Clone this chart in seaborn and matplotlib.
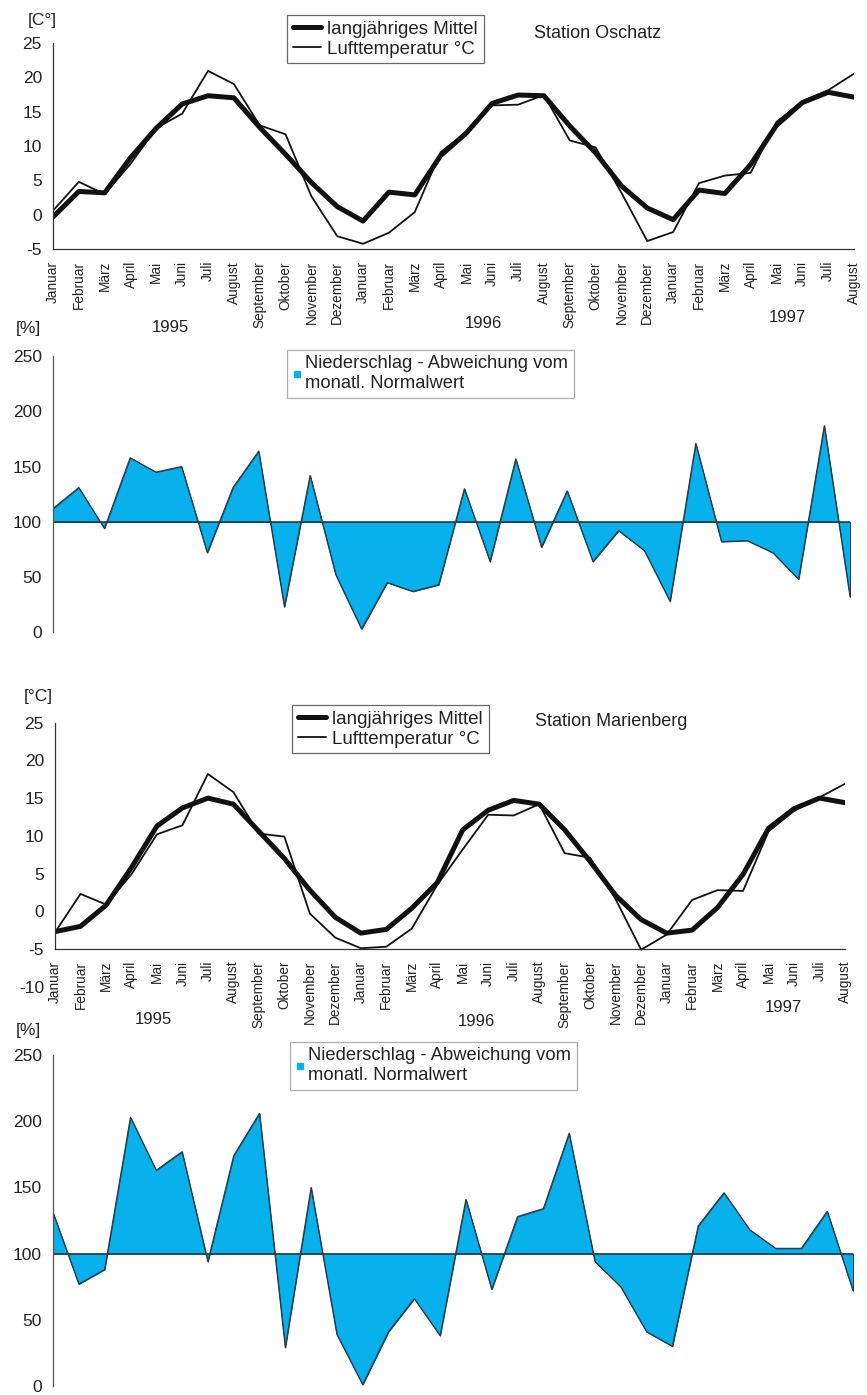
import numpy as np
import pandas as pd
import matplotlib
matplotlib.use("Agg")
import matplotlib.pyplot as plt
from matplotlib.lines import Line2D
import seaborn as sns

# ---- data -------------------------------------------------------------
MONTHS = ["Januar", "Februar", "März", "April", "Mai", "Juni", "Juli",
          "August", "September", "Oktober", "November", "Dezember"]
month_labels = MONTHS + MONTHS + MONTHS[:8]          # Jan 1995 .. Aug 1997
year_labels = ["1995", "1996", "1997"]

# Station Oschatz: long-term monthly mean and measured air temperature [°C]
osch_mittel = [-0.3, 3.4, 3.2, 8.3, 12.6, 16.1, 17.3, 17.0, 12.7, 8.8, 4.7, 1.2,
               -0.9, 3.3, 2.9, 8.6, 11.9, 16.2, 17.4, 17.3, 12.9, 9.0, 4.2, 1.0,
               -0.7, 3.6, 3.1, 7.3, 13.0, 16.3, 17.8, 17.1]
osch_temp = [0.6, 4.8, 3.0, 7.4, 12.6, 14.7, 20.9, 19.0, 13.0, 11.7, 2.7, -3.1,
             -4.2, -2.6, 0.4, 9.1, 12.0, 15.9, 16.0, 17.4, 10.8, 9.8, 3.2, -3.8,
             -2.5, 4.6, 5.7, 6.1, 13.5, 16.5, 18.1, 20.5]
# Station Oschatz: precipitation in % of the monthly normal
osch_nieder = [112, 131, 94, 158, 145, 150, 72, 131, 164, 23, 142, 52,
               3, 45, 37, 43, 130, 64, 157, 77, 128, 64, 92, 74,
               28, 171, 82, 83, 72, 48, 187, 32]

# Station Marienberg
mar_mittel = [-2.7, -2.0, 0.8, 5.8, 11.3, 13.7, 15.0, 14.2, 10.6, 7.0, 2.8, -0.8,
              -2.9, -2.4, 0.4, 3.8, 10.8, 13.4, 14.7, 14.2, 10.8, 6.6, 2.1, -1.1,
              -2.9, -2.5, 0.5, 4.9, 11.0, 13.6, 15.0, 14.4]
mar_temp = [-2.8, 2.3, 0.9, 4.9, 10.2, 11.4, 18.2, 15.8, 10.3, 9.9, -0.3, -3.5,
            -4.9, -4.7, -2.3, 3.5, 8.2, 12.8, 12.7, 14.2, 7.7, 7.1, 1.6, -5.1,
            -3.1, 1.5, 2.8, 2.7, 10.6, 13.3, 15.1, 16.9]
mar_nieder = [131, 77, 88, 203, 163, 177, 94, 174, 206, 29, 150, 39,
              1, 41, 66, 38, 141, 73, 128, 134, 191, 94, 75, 41,
              30, 121, 146, 118, 104, 104, 132, 72]

NORMAL = 100

# ---- style ------------------------------------------------------------
sns.set_theme(style="white")
plt.rcParams["font.family"] = ["Liberation Sans", "DejaVu Sans"]
TXT = "#222222"
plt.rcParams["text.color"] = TXT
plt.rcParams["xtick.color"] = TXT
plt.rcParams["ytick.color"] = TXT
plt.rcParams["axes.edgecolor"] = "#333333"
CYAN = "#08B0EC"
EDGE = "#1d3c4e"

W, H = 867, 1395
fig = plt.figure(figsize=(W / 100, H / 100), dpi=100)


def fx(x):
    return x / W


def fy(y):
    return 1 - y / H


def rect(x0, y_top, x1, y_bot):
    return [fx(x0), fy(y_bot), fx(x1) - fx(x0), fy(y_top) - fy(y_bot)]


idx = np.arange(len(month_labels))


def temp_panel(r, mittel, temp, ymin, yticks, unit, unit_xy, station,
               station_xy, leg_xy, year_xy):
    ax = fig.add_axes(r)
    df = pd.DataFrame({"m": idx, "mittel": mittel, "temp": temp})
    sns.lineplot(data=df, x="m", y="mittel", ax=ax, color="#111111",
                 lw=3.6, label="langjähriges Mittel")
    sns.lineplot(data=df, x="m", y="temp", ax=ax, color="#111111",
                 lw=1.3, label="Lufttemperatur °C")
    ax.set_xlim(0, len(month_labels) - 1)
    ax.set_ylim(ymin, 25)
    ax.set_xlabel("")
    ax.set_ylabel("")
    for s in ("top", "right"):
        ax.spines[s].set_visible(False)
    ax.spines["bottom"].set_position(("data", -5))
    ax.spines["left"].set_bounds(-5, 25)
    ax.spines["bottom"].set_linewidth(0.9)
    ax.spines["left"].set_linewidth(0.9)
    ax.set_xticks(idx)
    ax.set_xticklabels(month_labels, rotation=90, fontsize=9.8)
    ax.set_yticks(yticks)
    ax.set_yticklabels([str(t) for t in yticks], fontsize=12.5)
    ax.tick_params(axis="x", direction="inout", length=7, width=0.8, pad=5)
    ax.tick_params(axis="y", direction="out", length=5, width=0.8, pad=3)
    leg = ax.legend(loc="upper left", bbox_to_anchor=(fx(leg_xy[0]), fy(leg_xy[1])),
                    bbox_transform=fig.transFigure, borderaxespad=0,
                    fontsize=13.5, frameon=True, fancybox=False,
                    handlelength=1.5, handletextpad=0.35, labelspacing=0.15,
                    borderpad=0.3)
    leg.get_frame().set_edgecolor("#444444")
    leg.get_frame().set_linewidth(0.9)
    fig.text(fx(unit_xy[0]), fy(unit_xy[1]), unit, fontsize=12.5,
             ha="center", va="center")
    fig.text(fx(station_xy[0]), fy(station_xy[1]), station, fontsize=13,
             ha="center", va="center")
    for lab, (x, y) in zip(year_labels, year_xy):
        fig.text(fx(x), fy(y), lab, fontsize=12, ha="center", va="center")
    return ax


def rain_panel(r, values, unit_xy, leg_xy):
    ax = fig.add_axes(r)
    ax.fill_between(idx, values, NORMAL, facecolor=CYAN, edgecolor=EDGE,
                    linewidth=0.7)
    df = pd.DataFrame({"m": idx, "v": values})
    sns.lineplot(data=df, x="m", y="v", ax=ax, color=EDGE, lw=0.8)
    ax.axhline(NORMAL, color=EDGE, lw=1.1)
    ax.set_xlim(0, len(month_labels) - 1)
    ax.set_ylim(0, 250)
    ax.set_xlabel("")
    ax.set_ylabel("")
    for s in ("top", "right", "bottom"):
        ax.spines[s].set_visible(False)
    ax.spines["left"].set_color("#555555")
    ax.spines["left"].set_linewidth(0.9)
    ax.set_xticks([])
    ax.set_yticks([0, 50, 100, 150, 200, 250])
    ax.set_yticklabels(["0", "50", "100", "150", "200", "250"], fontsize=12.5)
    ax.tick_params(axis="y", direction="out", length=5, width=0.8, pad=3)
    handle = Line2D([], [], marker="s", linestyle="none", markersize=4.5,
                    markerfacecolor=CYAN, markeredgecolor=CYAN)
    leg = ax.legend([handle], ["Niederschlag - Abweichung vom\nmonatl. Normalwert"],
                    loc="upper left", bbox_to_anchor=(fx(leg_xy[0]), fy(leg_xy[1])),
                    bbox_transform=fig.transFigure, borderaxespad=0,
                    fontsize=13.2, frameon=True, fancybox=False,
                    handlelength=0.5, handletextpad=0.2, borderpad=0.3,
                    labelspacing=0.1)
    leg.get_frame().set_edgecolor("#999999")
    leg.get_frame().set_linewidth(0.9)
    fig.text(fx(unit_xy[0]), fy(unit_xy[1]), "[%]", fontsize=12.5,
             ha="center", va="center")
    return ax


temp_panel(rect(53, 42.7, 854, 249.3), osch_mittel, osch_temp, -5,
           [-5, 0, 5, 10, 15, 20, 25], "[C°]", (42, 20),
           "Station Oschatz", (598, 33), (287, 15),
           [(170, 327), (483, 324), (787, 317)])
rain_panel(rect(53, 356, 850, 632.3), osch_nieder, (28, 329), (287, 350))

temp_panel(rect(55, 722.7, 845, 986.7), mar_mittel, mar_temp, -10,
           [-10, -5, 0, 5, 10, 15, 20, 25], "[°C]", (38, 696),
           "Station Marienberg", (611, 722), (292, 705),
           [(153, 1019), (476, 1021), (783, 1008)])
rain_panel(rect(53, 1055, 853, 1386), mar_nieder, (28, 1030), (290, 1042))

fig.savefig("out.png", dpi=100, facecolor="white")
